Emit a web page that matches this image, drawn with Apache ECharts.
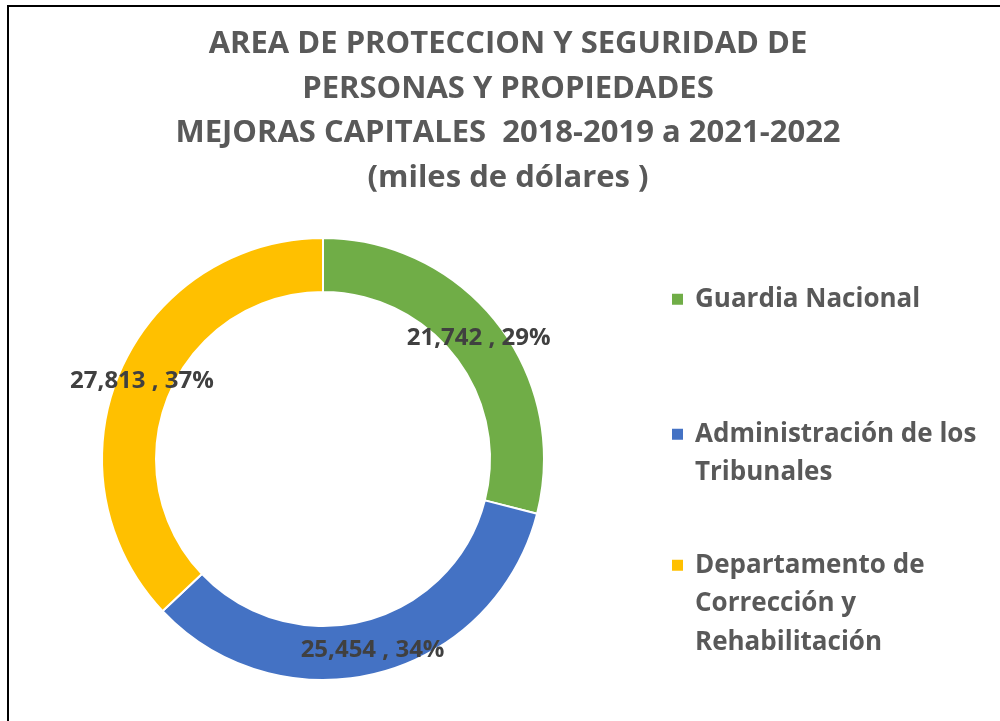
<!DOCTYPE html>
<html>
<head>
<meta charset="utf-8">
<script src="https://cdn.jsdelivr.net/npm/echarts@6/dist/echarts.min.js"></script>
<style>
  html, body { margin: 0; padding: 0; background: #fff; }
  #chart { width: 1000px; height: 721px; }
</style>
</head>
<body>
<div id="chart"></div>
<script>
// datos
const categories = ['Guardia Nacional', 'Administración de los Tribunales', 'Departamento de Corrección y Rehabilitación']
const legendLines = [['Guardia Nacional'], ['Administración de los', 'Tribunales'], ['Departamento de', 'Corrección y', 'Rehabilitación']]
const values = [21742, 25454, 27813]
const colors = ['#70AD47', '#4472C4', '#FFC000']
const titleLines = ['AREA DE PROTECCION Y SEGURIDAD DE', 'PERSONAS Y PROPIEDADES', 'MEJORAS CAPITALES  2018-2019 a 2021-2022', '(miles de dólares )']

const FONT = 'Open Sans'
const chart = echarts.init(document.getElementById('chart'))

const lineH = 38.5
const legendTops = [280, 414, 545]

// icono cuadrado alineado con la primera linea del texto
function iconFor(n) {
  if (n === 1) return 'rect'
  const h = n * lineH
  const y0 = lineH / 2 - 6.5
  return 'path://M0,' + y0 + 'H13V' + (y0 + 13) + 'H0Z M0,0h0.01v0.01Z M0,' + h + 'h0.01v0.01Z'
}

const legends = categories.map((name, i) => {
  const n = legendLines[i].length
  return {
    left: 670,
    top: legendTops[i],
    padding: 0,
    orient: 'vertical',
    data: [{ name: name, icon: iconFor(n), itemStyle: { color: colors[i] } }],
    itemWidth: 13,
    itemHeight: n === 1 ? 13 : n * lineH,
    selectedMode: false,
    formatter: () => legendLines[i].join('\n'),
    textStyle: {
      fontFamily: FONT,
      fontWeight: 'bold',
      fontSize: 26,
      color: '#595959',
      lineHeight: lineH,
      padding: [0, 0, 0, 6]
    }
  }
})

const option = {
  backgroundColor: '#fff',
  animation: false,
  title: {
    text: titleLines.join('\n'),
    left: 508,
    top: 22,
    padding: 0,
    textAlign: 'center',
    textStyle: {
      fontFamily: FONT,
      fontWeight: 'bold',
      fontSize: 31,
      color: '#595959',
      lineHeight: 44.5
    }
  },
  legend: legends,
  graphic: [{
    type: 'rect',
    shape: { x: 8, y: 6, width: 1100, height: 800 },
    style: { fill: 'none', stroke: '#000', lineWidth: 2 },
    silent: true
  }],
  series: [{
    type: 'pie',
    center: [323, 459],
    radius: [167, 221],
    startAngle: 90,
    clockwise: true,
    emphasis: { scale: false },
    itemStyle: { borderColor: '#fff', borderWidth: 2 },
    label: {
      show: true,
      position: 'inside',
      fontFamily: FONT,
      fontWeight: 'bold',
      fontSize: 24,
      color: '#404040',
      formatter: p => p.value.toLocaleString('en-US') + ' , ' + Math.round(p.percent) + '%'
    },
    labelLine: { show: false },
    data: categories.map((name, i) => ({ name: name, value: values[i], itemStyle: { color: colors[i] } }))
  }]
}

chart.setOption(option)
</script>
</body>
</html>
